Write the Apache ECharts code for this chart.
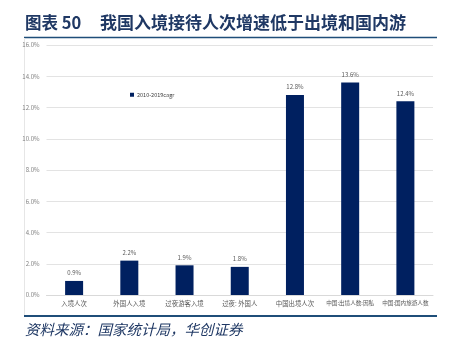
<!DOCTYPE html>
<html>
<head>
<meta charset="utf-8">
<script src="https://cdn.jsdelivr.net/npm/echarts@6/dist/echarts.min.js"></script>
<style>
  html, body { margin: 0; padding: 0; background: #fff; }
  #chart { width: 449px; height: 345px; }
</style>
</head>
<body>
<div id="chart"></div>
<script>
// Growth categories and 2010-2019 compound annual growth rates (%)
const categories = ['入境人次', '外国人入境', '过夜游客入境', '过夜: 外国人', '中国出境人次', '中国:出境人数:因私', '中国:国内旅游人数'];
const cagr = [0.9, 2.2, 1.9, 1.8, 12.8, 13.6, 12.4];
const seriesName = '2010-2019cagr';
const titleNo = '图表 50';
const titleText = '我国入境接待人次增速低于出境和国内游';
const sourceText = '资料来源：国家统计局，华创证券';

const navy = '#002060';
const headColor = '#1f3864';
const cjk = '"Noto Sans CJK SC", "Noto Sans", sans-serif';

// long category names are set a little smaller so they fit their band
const categoryItems = categories.map(c => c.length > 8
  ? { value: c, textStyle: { fontSize: 5.6 } }
  : c);

const chart = echarts.init(document.getElementById('chart'));
chart.setOption({
  animation: false,
  textStyle: { fontFamily: cjk },
  grid: { left: 46.5, right: 16, top: 45, bottom: 50 },
  legend: {
    data: [seriesName],
    left: 125, top: 87,
    itemWidth: 4, itemHeight: 4, itemGap: 2,
    icon: 'rect',
    textStyle: { fontSize: 5.5, color: '#404040', padding: [0, 0, 0, -2] }
  },
  xAxis: {
    type: 'category',
    data: categoryItems,
    axisTick: { show: false },
    axisLine: { lineStyle: { color: '#d9d9d9' } },
    axisLabel: { fontSize: 6.4, color: '#595959', margin: 5, interval: 0 }
  },
  yAxis: {
    type: 'value',
    min: 0, max: 16, interval: 2,
    axisLine: { show: false },
    axisTick: { show: false },
    splitLine: { lineStyle: { color: '#e3e3e3', width: 1 } },
    axisLabel: {
      fontSize: 6, color: '#7f7f7f', margin: 7,
      formatter: v => v.toFixed(1) + '%'
    }
  },
  series: [{
    name: seriesName,
    type: 'bar',
    data: cagr,
    barWidth: 18,
    itemStyle: { color: navy },
    label: {
      show: true, position: 'top', distance: 5,
      fontSize: 6, color: '#595959',
      formatter: p => p.value.toFixed(1) + '%'
    }
  }],
  graphic: [
    { type: 'text', left: 25, top: 14,
      style: { text: titleNo, fontSize: 16.5, fontWeight: 'bold', fill: headColor, fontFamily: cjk } },
    { type: 'text', left: 100, top: 14,
      style: { text: titleText, fontSize: 17, fontWeight: 'bold', fill: headColor, fontFamily: cjk } },
    { type: 'line', shape: { x1: 24, y1: 37.5, x2: 437, y2: 37.5 }, style: { stroke: '#1f4e79', lineWidth: 1.5 } },
    { type: 'line', shape: { x1: 24.5, y1: 38, x2: 24.5, y2: 315 }, style: { stroke: '#e6e6e6', lineWidth: 1 } },
    { type: 'line', shape: { x1: 24, y1: 316, x2: 437, y2: 316 }, style: { stroke: '#1f4e79', lineWidth: 2 } },
    { type: 'text', left: 25, top: 322,
      style: { text: sourceText, fontSize: 14.5, fontStyle: 'italic', fill: headColor, fontFamily: cjk } }
  ]
});
</script>
</body>
</html>
